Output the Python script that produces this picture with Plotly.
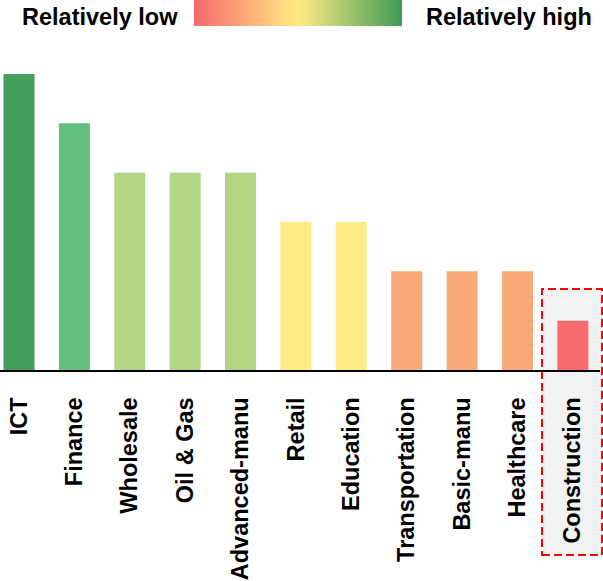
import plotly.graph_objects as go

# Sectors ranked by relative level (1 = relatively low, 6 = relatively high)
sectors = ["ICT", "Finance", "Wholesale", "Oil & Gas", "Advanced-manu", "Retail",
           "Education", "Transportation", "Basic-manu", "Healthcare", "Construction"]
levels = [6, 5, 4, 4, 4, 3, 3, 2, 2, 2, 1]

# Fill colour for each level
level_colors = {
    1: "#F86B6E",
    2: "#FAAA78",
    3: "#FEEA85",
    4: "#B2D583",
    5: "#64BE7C",
    6: "#439F5A",
}

# Low-to-high scale shown in the key at the top
key_scale = [
    [0.0, "#F8696B"],
    [0.5, "#FFEB84"],
    [1.0, "#3F9B55"],
]

highlight = "Construction"

W, H = 603, 581
L, R, T, B = 0, 3, 64, 211
plot_w = W - L - R
plot_h = H - T - B

fig = go.Figure()

fig.add_trace(go.Bar(
    x=sectors,
    y=levels,
    marker=dict(color=[level_colors[v] for v in levels], line=dict(width=0)),
    hoverinfo="x",
    showlegend=False,
))

# Colour key (colorbar only)
fig.add_trace(go.Scatter(
    x=[None], y=[None],
    mode="markers",
    showlegend=False,
    hoverinfo="skip",
    marker=dict(
        color=[0, 1], cmin=0, cmax=1,
        colorscale=key_scale,
        showscale=True,
        colorbar=dict(
            orientation="h",
            lenmode="pixels", len=208,
            thicknessmode="pixels", thickness=26,
            x=298 / plot_w, xanchor="center",
            y=(T + plot_h) / plot_h, yanchor="top",
            xpad=0, ypad=0,
            outlinewidth=0,
            showticklabels=False,
            ticks="",
        ),
    ),
))

label_font = dict(family="Liberation Sans, Arial", size=23.5, color="black", weight="bold")

fig.add_annotation(text="Relatively low", x=100 / plot_w, y=(T + plot_h - 17) / plot_h,
                   xref="paper", yref="paper", showarrow=False,
                   xanchor="center", yanchor="middle", font=label_font)
fig.add_annotation(text="Relatively high", x=508.5 / plot_w, y=(T + plot_h - 17) / plot_h,
                   xref="paper", yref="paper", showarrow=False,
                   xanchor="center", yanchor="middle", font=label_font)

# Highlight box around the last sector, including its label
def px_x(p):
    return p / plot_w

def px_y(p):
    return (T + plot_h - p) / plot_h

fig.add_shape(type="rect", xref="paper", yref="paper",
              x0=px_x(542), x1=px_x(602), y0=px_y(555), y1=px_y(289),
              fillcolor="#F2F2F2", layer="below",
              line=dict(color="#FF0000", width=2, dash="8px,4px"))

fig.update_layout(
    width=W, height=H,
    margin=dict(l=L, r=R, t=T, b=B, pad=0),
    paper_bgcolor="white",
    plot_bgcolor="rgba(0,0,0,0)",
    bargap=0.44,
    xaxis=dict(
        type="category",
        range=[-0.343, 10.49],
        showline=True, linecolor="black", linewidth=2,
        showgrid=False, zeroline=False,
        ticks="",
        tickangle=-90,
        tickfont=label_font,
        ticklabelstandoff=16,
        fixedrange=True,
    ),
    yaxis=dict(
        range=[0, plot_h / 49.33],
        showline=False, showgrid=False, zeroline=False,
        showticklabels=False, ticks="",
        fixedrange=True,
    ),
)

fig.write_html("out.html")
